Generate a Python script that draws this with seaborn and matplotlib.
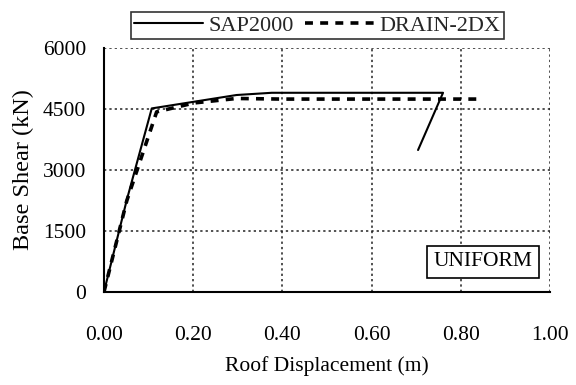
import matplotlib
matplotlib.use("Agg")
import matplotlib.pyplot as plt
import seaborn as sns
import pandas as pd

# Data
sap_x = [0.0, 0.051, 0.107, 0.202, 0.297, 0.376, 0.760, 0.704]
sap_y = [0, 2260, 4515, 4680, 4845, 4900, 4900, 3490]
drain_x = [0.0, 0.051, 0.118, 0.202, 0.297, 0.398, 0.849]
drain_y = [0, 2240, 4430, 4650, 4760, 4745, 4745]
x_ticks = [0.0, 0.2, 0.4, 0.6, 0.8, 1.0]
x_tick_labels = ["0.00", "0.20", "0.40", "0.60", "0.80", "1.00"]
y_ticks = [0, 1500, 3000, 4500, 6000]

sns.set_style("white")
plt.rcParams["font.family"] = ["Liberation Serif", "DejaVu Serif"]

sap_df = pd.DataFrame({"x": sap_x, "y": sap_y})
drain_df = pd.DataFrame({"x": drain_x, "y": drain_y})

fig = plt.figure(figsize=(5.76, 3.85), dpi=100)
ax = fig.add_axes([0.1806, 0.2423, 0.7744, 0.6327])

sns.lineplot(data=sap_df, x="x", y="y", sort=False, estimator=None, ax=ax,
             color="black", linewidth=1.5, label="SAP2000")
sns.lineplot(data=drain_df, x="x", y="y", sort=False, estimator=None, ax=ax,
             color="black", linewidth=2.6, label="DRAIN-2DX",
             linestyle=(0, (2.2, 2.0)))

ax.set_xlim(0, 1.0)
ax.set_ylim(0, 6000)
ax.set_xticks(x_ticks)
ax.set_xticklabels(x_tick_labels)
ax.set_yticks(y_ticks)

ax.grid(True, color="#222222", linestyle=(0, (1.5, 2.0)), linewidth=1.1)
for s in ["top", "right"]:
    ax.spines[s].set_visible(False)
for s in ["left", "bottom"]:
    ax.spines[s].set_color("black")
    ax.spines[s].set_linewidth(1.5)

ax.tick_params(axis="both", direction="inout", length=10, width=1.2,
               color="black", labelsize=15.5, labelcolor="black")
ax.tick_params(axis="x", pad=20)
ax.tick_params(axis="y", pad=8)

ax.set_xlabel("Roof Displacement (m)", fontsize=15.5, color="black", labelpad=8)
ax.set_ylabel("Base Shear (kN)", fontsize=17.5, color="black", labelpad=6)

ax.text(0.85, 0.122, "UNIFORM", transform=ax.transAxes, ha="center", va="center",
        fontsize=15.5, color="black",
        bbox=dict(boxstyle="square,pad=0.3", facecolor="white", edgecolor="black", linewidth=1.2))

leg = ax.legend(loc="center", bbox_to_anchor=(0.478, 1.094), ncol=2, frameon=True,
                fancybox=False, edgecolor="black", fontsize=16, handlelength=3.1,
                handletextpad=0.25, columnspacing=0.5, borderpad=0.15, borderaxespad=0)
leg.get_frame().set_linewidth(1.2)
for line in leg.get_lines():
    line.set_color("black")

fig.savefig("out.png", dpi=100)
